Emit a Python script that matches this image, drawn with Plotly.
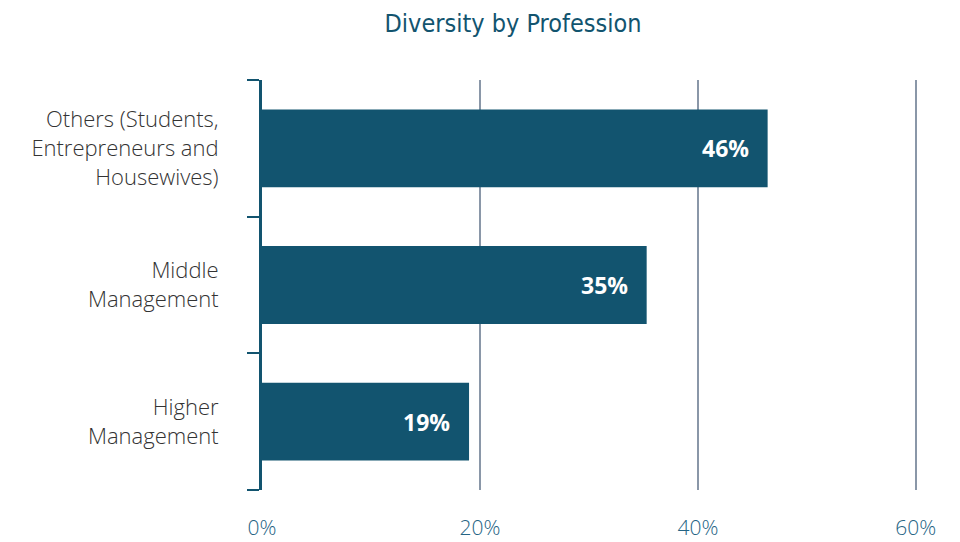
import plotly.graph_objects as go

categories = ["Higher<br>Management", "Middle<br>Management",
              "Others (Students,<br>Entrepreneurs and<br>Housewives)"]
values = [19.0, 35.3, 46.4]
labels = ["19%", "35%", "46%"]
x_ticks = [0, 20, 40, 60]
x_tick_labels = ["0%", "20%", "40%", "60%"]

dark = "#12546f"

fig = go.Figure()
fig.add_trace(go.Bar(
    y=categories, x=values, orientation="h",
    marker=dict(color=dark, line=dict(width=0)),
    width=0.57, hoverinfo="skip",
))
for c, v, t in zip(categories, values, labels):
    fig.add_annotation(x=v, y=c, text=t, showarrow=False, xanchor="right",
                       xshift=-17, font=dict(family="Open Sans", size=23,
                                             color="white", weight="bold"))

fig.update_layout(
    width=960, height=542,
    margin=dict(l=254, r=38, t=72, b=60),
    paper_bgcolor="white", plot_bgcolor="white",
    showlegend=False,
    title=dict(text="Diversity by Profession", x=505/960, xanchor="center",
               y=1 - 15/542, yanchor="middle",
               font=dict(family="DejaVu Sans Condensed, Liberation Sans Narrow, Roboto",
                         size=25, color=dark)),
    xaxis=dict(range=[0, 61.3], tickvals=x_ticks, ticktext=x_tick_labels,
               showgrid=True, gridcolor="#8a97a8", gridwidth=2,
               zeroline=False, showline=False, ticks="", automargin=False,
               tickfont=dict(family="Open Sans", size=21, color="#256484", weight=300),
               ticklabelstandoff=23, fixedrange=True),
    yaxis=dict(showline=True, linecolor=dark, linewidth=3, automargin=False,
               ticks="outside", tickson="boundaries", ticklen=12,
               tickcolor=dark, tickwidth=2, showgrid=False, zeroline=False,
               tickfont=dict(family="Open Sans", size=22, color="#333333", weight=300),
               ticklabelstandoff=36, fixedrange=True),
    bargap=0.43,
)
fig.write_html("out.html")
